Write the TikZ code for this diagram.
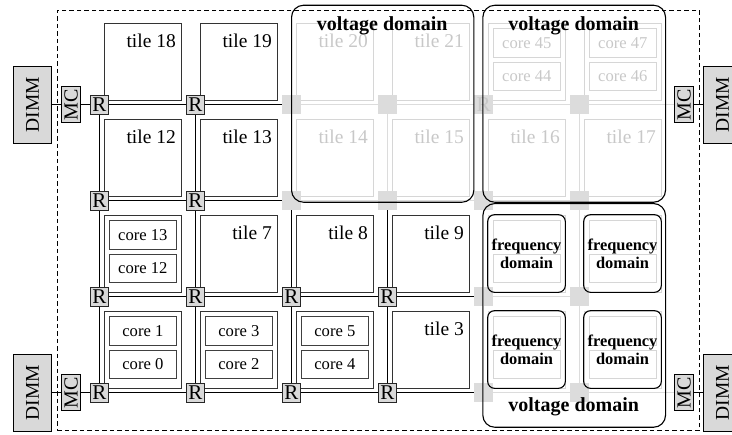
\documentclass[tikz,border=0pt]{standalone}
\usepackage{fontspec}
\setmainfont{Liberation Serif}
\definecolor{lgray}{HTML}{DCDCDC}
\definecolor{gline}{HTML}{D6D6D6}
\definecolor{gtext}{HTML}{C8C8C8}
\definecolor{rfill}{HTML}{D9D9D9}
\pgfdeclarelayer{bg}
\pgfsetlayers{bg,main}
\begin{document}
\begin{tikzpicture}[x=1pt,y=-1pt,
 chip/.style={draw=black,line width=0.9pt,dash pattern=on 4.5pt off 3pt,inner sep=0pt},
 mesh/.style={line width=1.8pt,draw=black},
 gmesh/.style={line width=1.8pt,draw=lgray},
 link/.style={line width=1.3pt,draw=black},
 tile/.style={draw=black!80,line width=0.9pt,minimum size=77pt,inner sep=0pt},
 gtile/.style={tile,draw=gline},
 tlabel/.style={anchor=base east,inner sep=0pt,font=\fontsize{19.5}{20}\selectfont},
 gtlabel/.style={tlabel,text=gtext},
 core/.style={draw=black!75,line width=1pt,minimum width=67.7pt,minimum height=28.6pt,inner sep=0pt,font=\fontsize{16.6}{18}\selectfont},
 gcore/.style={core,draw=gline,text=gtext},
 router/.style={draw=black!85,fill=rfill,line width=0.8pt,minimum width=18.5pt,minimum height=19pt,inner sep=0pt,font=\fontsize{21}{21}\selectfont},
 grouter/.style={fill=lgray,minimum width=19pt,minimum height=19pt,inner sep=0pt,text=gtext,font=\fontsize{21}{21}\selectfont},
 vdom/.style={draw=black,line width=1.1pt,rounded corners=12pt,inner sep=0pt,anchor=north west},
 vlabel/.style={font=\bfseries\fontsize{20}{22}\selectfont,inner sep=0pt,anchor=base},
 fdom/.style={draw=black,line width=1.1pt,rounded corners=7pt,minimum size=77.7pt,inner sep=0pt,align=center,font=\bfseries\fontsize{16.4}{18}\selectfont},
 dimm/.style={draw=black,fill=rfill,line width=0.9pt,rotate=90,minimum width=77pt,minimum height=38.4pt,inner sep=0pt,font=\fontsize{19.5}{20}\selectfont},
 mc/.style={draw=black,fill=rfill,line width=0.9pt,rotate=90,minimum width=36pt,minimum height=18.5pt,inner sep=0pt,font=\fontsize{20}{20}\selectfont},
]
\useasboundingbox (0,0) rectangle (732,435);

% chip boundary
\node[chip,minimum width=642pt,minimum height=420pt,anchor=north west] (chip) at (57,10) {};

% plain black tiles
\foreach \i/\j/\n in {0/0/18,1/0/19,0/1/12,1/1/13,1/2/7,2/2/8,3/2/9,3/3/3}{
  \node[tile] (t\i\j) at ({142.5+96*\i},{61.5+96*\j}) {};
  \node[tlabel] (l\i\j) at ({176+96*\i},{47.7+96*\j}) {tile \n};
}
% plain gray tiles
\foreach \i/\j/\n in {2/0/20,3/0/21,2/1/14,3/1/15,4/1/16,5/1/17}{
  \node[gtile] (t\i\j) at ({142.5+96*\i},{61.5+96*\j}) {};
  \node[gtlabel] (l\i\j) at ({176+96*\i},{47.7+96*\j}) {tile \n};
}
% black core tiles
\foreach \i/\j/\a/\b in {0/2/13/12,0/3/1/0,1/3/3/2,2/3/5/4}{
  \node[tile] (t\i\j) at ({142.5+96*\i},{61.5+96*\j}) {};
  \node[core] (ca\i\j) at ({142.85+96*\i},{43+96*\j}) {core \a};
  \node[core] (cb\i\j) at ({142.85+96*\i},{76.35+96*\j}) {core \b};
}
% gray core tiles
\foreach \i/\j/\a/\b in {4/0/45/44,5/0/47/46}{
  \node[gtile] (t\i\j) at ({142.5+96*\i},{61.5+96*\j}) {};
  \node[gcore] (ca\i\j) at ({142.85+96*\i},{43+96*\j}) {core \a};
  \node[gcore] (cb\i\j) at ({142.85+96*\i},{76.35+96*\j}) {core \b};
}
% frequency-domain tiles
\foreach \i/\j in {4/2,5/2,4/3,5/3}{
  \node[gtile] (t\i\j) at ({142.5+96*\i},{61.5+96*\j}) {};
  \node[gcore] (ca\i\j) at ({142.85+96*\i},{43+96*\j}) {};
  \node[gcore] (cb\i\j) at ({142.85+96*\i},{76.35+96*\j}) {};
}

% routers
\foreach \i/\j in {0/0,1/0,0/1,1/1,0/2,1/2,2/2,3/2,0/3,1/3,2/3,3/3}{
  \node[router] (r\i\j) at ({99.5+96*\i},{104.5+96*\j}) {R};
}
\foreach \i/\j in {2/0,3/0,5/0,2/1,3/1,4/1,5/1,4/2,5/2,4/3,5/3}{
  \node[grouter] (r\i\j) at ({99.5+96*\i},{104.5+96*\j}) {};
}
\node[grouter] (r40) at (483.5,104.5) {R};

% frequency domains
\foreach \i/\j in {4/2,5/2,4/3,5/3}{
  \node[fdom] (f\i\j) at ({142.5+96*\i},{61.5+96*\j}) {frequency\\domain};
}

% voltage domains
\node[vdom,minimum width=182.3pt,minimum height=197pt] (vd1) at (291,4.7) {};
\node[vdom,minimum width=182.7pt,minimum height=197pt] (vd2) at (482.3,4.7) {};
\node[vdom,minimum width=182.7pt,minimum height=223.7pt] (vd3) at (482.3,203) {};
\node[vlabel] (vl1) at (382.2,30.5) {voltage domain};
\node[vlabel] (vl2) at (573.7,30.5) {voltage domain};
\node[vlabel] (vl3) at (573.7,411.5) {voltage domain};

% memory controllers and DIMMs
\node[dimm] (dL1) at (32.5,104.5) {DIMM};
\node[dimm] (dL2) at (32.5,392.5) {DIMM};
\node[dimm] (dR1) at (722.5,104.5) {DIMM};
\node[dimm] (dR2) at (722.5,392.5) {DIMM};
\node[mc] (mL1) at (71,104.5) {MC};
\node[mc] (mL2) at (71,392.5) {MC};
\node[mc] (mR1) at (684,104.5) {MC};
\node[mc] (mR2) at (684,392.5) {MC};
\draw[link] (dL1) -- (mL1);
\draw[link] (dL2) -- (mL2);
\draw[link] (mR1) -- (dR1);
\draw[link] (mR2) -- (dR2);

\begin{pgfonlayer}{bg}
  \foreach \a/\b in {20/30,30/40,40/50,21/31,31/41,41/51,42/52,43/53,20/21,30/31,40/41,41/42,42/43,50/51,51/52,52/53}{
    \draw[gmesh] (r\a) -- (r\b);
  }
  \draw[gmesh] (r50) -- (mR1);
  \draw[gmesh] (r53) -- (mR2);
  \foreach \a/\b in {00/10,10/20,01/11,11/21,02/12,12/22,22/32,32/42,03/13,13/23,23/33,33/43,00/01,01/02,02/03,10/11,11/12,12/13,21/22,22/23,31/32,32/33}{
    \draw[mesh] (r\a) -- (r\b);
  }
  \draw[mesh] (mL1) -- (r00);
  \draw[mesh] (mL2) -- (r03);
\end{pgfonlayer}
\end{tikzpicture}
\end{document}
